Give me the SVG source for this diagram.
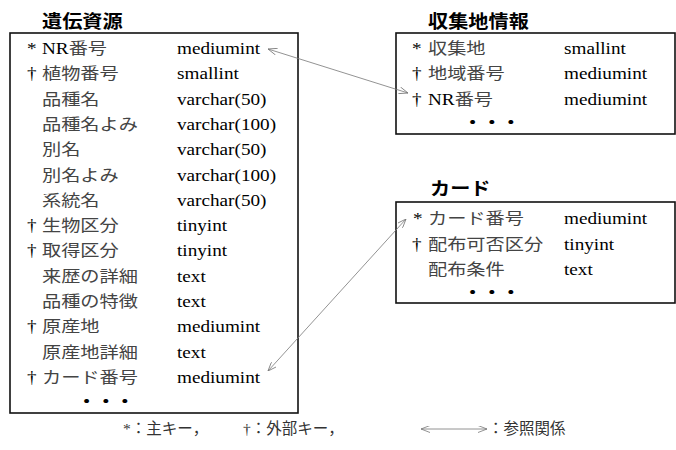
<svg xmlns="http://www.w3.org/2000/svg" width="676" height="450" viewBox="0 0 676 450">
<style>
.box{fill:#fff;stroke:#111;stroke-width:1.6}
.title{font-family:"Noto Sans CJK JP",sans-serif;font-weight:700;font-size:18px;fill:#000}
.t text{font-family:"Liberation Serif","Noto Sans CJK JP",serif;font-size:16px;fill:#000}
.t text.j,.t tspan.j{font-family:"Noto Sans CJK JP",sans-serif;fill:#444}
.t text.dots{font-family:"Noto Sans CJK JP",sans-serif;font-weight:700;fill:#000}
.lg{font-family:"Liberation Serif","Noto Sans CJK JP",serif;font-size:15.5px;fill:#333}
.conn{stroke:#777;stroke-width:0.8;fill:none}
</style>
<defs>
<marker id="ah" viewBox="0 0 9 7" refX="9" refY="3.5" markerWidth="9" markerHeight="7" markerUnits="userSpaceOnUse" orient="auto-start-reverse">
<path d="M0,0 L9,3.5 L0,7" fill="none" stroke="#777" stroke-width="0.8"/>
</marker>
</defs>

<g id="node-iden">
<rect class="box" x="10" y="33" width="288" height="380"/>
<text class="title" transform="translate(42 28) scale(1.12 1)">遺伝資源</text>
<g class="t">
<text transform="translate(27 54) scale(1.2 1)">*</text><text transform="translate(42 54) scale(1.2 1)">NR<tspan class="j">番号</tspan></text><text transform="translate(177 54) scale(1.2 1)">mediumint</text>
<text transform="translate(27 79.3) scale(1.2 1)">†</text><text class="j" transform="translate(42 79.3) scale(1.2 1)">植物番号</text><text transform="translate(177 79.3) scale(1.2 1)">smallint</text>
<text class="j" transform="translate(42 104.6) scale(1.2 1)">品種名</text><text transform="translate(177 104.6) scale(1.2 1)">varchar(50)</text>
<text class="j" transform="translate(42 129.9) scale(1.2 1)">品種名よみ</text><text transform="translate(177 129.9) scale(1.2 1)">varchar(100)</text>
<text class="j" transform="translate(42 155.2) scale(1.2 1)">別名</text><text transform="translate(177 155.2) scale(1.2 1)">varchar(50)</text>
<text class="j" transform="translate(42 180.5) scale(1.2 1)">別名よみ</text><text transform="translate(177 180.5) scale(1.2 1)">varchar(100)</text>
<text class="j" transform="translate(42 205.8) scale(1.2 1)">系統名</text><text transform="translate(177 205.8) scale(1.2 1)">varchar(50)</text>
<text transform="translate(27 231.1) scale(1.2 1)">†</text><text class="j" transform="translate(42 231.1) scale(1.2 1)">生物区分</text><text transform="translate(177 231.1) scale(1.2 1)">tinyint</text>
<text transform="translate(27 256.4) scale(1.2 1)">†</text><text class="j" transform="translate(42 256.4) scale(1.2 1)">取得区分</text><text transform="translate(177 256.4) scale(1.2 1)">tinyint</text>
<text class="j" transform="translate(42 281.7) scale(1.2 1)">来歴の詳細</text><text transform="translate(177 281.7) scale(1.2 1)">text</text>
<text class="j" transform="translate(42 307) scale(1.2 1)">品種の特徴</text><text transform="translate(177 307) scale(1.2 1)">text</text>
<text transform="translate(27 332.3) scale(1.2 1)">†</text><text class="j" transform="translate(42 332.3) scale(1.2 1)">原産地</text><text transform="translate(177 332.3) scale(1.2 1)">mediumint</text>
<text class="j" transform="translate(42 357.6) scale(1.2 1)">原産地詳細</text><text transform="translate(177 357.6) scale(1.2 1)">text</text>
<text transform="translate(27 382.9) scale(1.2 1)">†</text><text class="j" transform="translate(42 382.9) scale(1.2 1)">カード番号</text><text transform="translate(177 382.9) scale(1.2 1)">mediumint</text>
<text class="dots" transform="translate(77 407) scale(1.2 1)">・・・</text>
</g>
</g>

<g id="node-shushu">
<rect class="box" x="396" y="33" width="279" height="101"/>
<text class="title" transform="translate(428 28) scale(1.12 1)">収集地情報</text>
<g class="t">
<text transform="translate(412 54) scale(1.2 1)">*</text><text class="j" transform="translate(428 54) scale(1.2 1)">収集地</text><text transform="translate(564 54) scale(1.2 1)">smallint</text>
<text transform="translate(412 79.3) scale(1.2 1)">†</text><text class="j" transform="translate(428 79.3) scale(1.2 1)">地域番号</text><text transform="translate(564 79.3) scale(1.2 1)">mediumint</text>
<text transform="translate(412 104.6) scale(1.2 1)">†</text><text transform="translate(428 104.6) scale(1.2 1)">NR<tspan class="j">番号</tspan></text><text transform="translate(564 104.6) scale(1.2 1)">mediumint</text>
<text class="dots" transform="translate(463 128) scale(1.2 1)">・・・</text>
</g>
</g>

<g id="node-card">
<rect class="box" x="396" y="202" width="279" height="101"/>
<text class="title" transform="translate(430 195) scale(1.12 1)">カード</text>
<g class="t">
<text transform="translate(413 224) scale(1.2 1)">*</text><text class="j" transform="translate(428 224) scale(1.2 1)">カード番号</text><text transform="translate(564 224) scale(1.2 1)">mediumint</text>
<text transform="translate(412 249.5) scale(1.2 1)">†</text><text class="j" transform="translate(428 249.5) scale(1.2 1)">配布可否区分</text><text transform="translate(564 249.5) scale(1.2 1)">tinyint</text>
<text class="j" transform="translate(428 275) scale(1.2 1)">配布条件</text><text transform="translate(564 275) scale(1.2 1)">text</text>
<text class="dots" transform="translate(463 298) scale(1.2 1)">・・・</text>
</g>
</g>

<g id="connectors">
<line class="conn" x1="268" y1="49" x2="408" y2="93" marker-start="url(#ah)" marker-end="url(#ah)"/>
<line class="conn" x1="268" y1="371" x2="406" y2="219" marker-start="url(#ah)" marker-end="url(#ah)"/>
</g>

<g id="legend">
<text class="lg" x="123" y="434">*：主キー，</text>
<text class="lg" x="243" y="434">†：外部キー，</text>
<line class="conn" x1="421" y1="429" x2="487" y2="429" marker-start="url(#ah)" marker-end="url(#ah)"/>
<text class="lg" x="488" y="434">：参照関係</text>
</g>
</svg>
